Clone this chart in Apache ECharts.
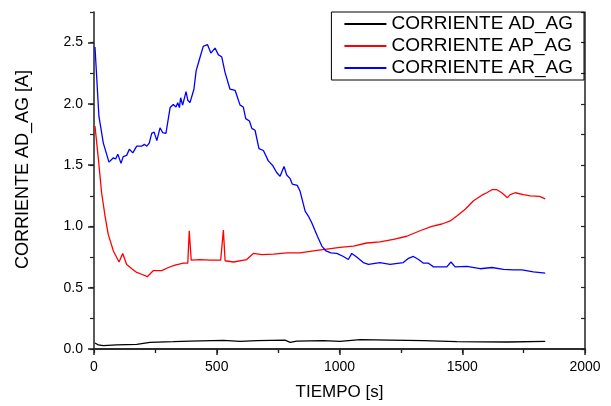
<!DOCTYPE html>
<html lang="es">
<head>
    <meta charset="UTF-8">
    <title>Corriente</title>
    <script src="https://cdn.jsdelivr.net/npm/echarts@6/dist/echarts.min.js"></script>
</head>
<body style="margin:0">
<div id="main" style="width: 611px;height:406px;"></div>
<script>
    // tiempo [s] y corriente [A]
    var adTime = [4, 18, 38, 92, 174, 228, 323, 391, 527, 595, 663, 778, 799, 826, 934, 1002, 1084, 1206, 1342, 1478, 1682, 1838];
    var adVal  = [0.049, 0.033, 0.027, 0.033, 0.038, 0.054, 0.060, 0.065, 0.070, 0.063, 0.068, 0.073, 0.054, 0.065, 0.068, 0.063, 0.076, 0.073, 0.068, 0.060, 0.057, 0.063];

    var apTime = [4, 18, 31, 45, 58, 79, 102, 117, 133, 154, 174, 194, 217, 242, 276, 303, 330, 364, 382, 388, 396, 432, 473, 516, 527, 534, 568, 622, 649, 683, 731, 785, 839, 894, 948, 1002, 1057, 1111, 1165, 1220, 1274, 1328, 1376, 1417, 1451, 1478, 1512, 1546, 1580, 1600, 1621, 1641, 1661, 1684, 1695, 1716, 1749, 1777, 1815, 1838];
    var apVal  = [1.82, 1.547, 1.275, 1.085, 0.935, 0.80, 0.71, 0.78, 0.69, 0.655, 0.625, 0.61, 0.59, 0.64, 0.64, 0.665, 0.685, 0.70, 0.70, 0.965, 0.725, 0.73, 0.725, 0.725, 0.97, 0.72, 0.71, 0.73, 0.78, 0.77, 0.775, 0.785, 0.785, 0.80, 0.815, 0.83, 0.84, 0.865, 0.875, 0.895, 0.92, 0.965, 1.00, 1.02, 1.045, 1.085, 1.14, 1.21, 1.255, 1.275, 1.30, 1.30, 1.275, 1.235, 1.26, 1.275, 1.26, 1.25, 1.245, 1.225];

    var arTime = [4, 20, 38, 61, 79, 88, 97, 110, 119, 133, 144, 158, 174, 194, 205, 215, 225, 235, 245, 256, 269, 280, 293, 310, 323, 334, 341, 348, 353, 361, 375, 382, 391, 407, 416, 429, 445, 462, 476, 493, 507, 520, 534, 554, 575, 595, 608, 618, 633, 643, 656, 672, 690, 710, 727, 744, 758, 774, 785, 799, 808, 828, 839, 860, 873, 887, 910, 928, 945, 965, 989, 1016, 1036, 1050, 1070, 1097, 1118, 1165, 1206, 1260, 1281, 1301, 1322, 1342, 1362, 1383, 1437, 1454, 1471, 1519, 1573, 1621, 1668, 1709, 1743, 1790, 1838];
    var arVal  = [2.465, 1.90, 1.68, 1.525, 1.56, 1.55, 1.59, 1.515, 1.57, 1.58, 1.63, 1.60, 1.655, 1.655, 1.67, 1.655, 1.68, 1.76, 1.77, 1.70, 1.805, 1.765, 1.76, 1.97, 1.995, 1.975, 2.01, 1.97, 2.05, 1.99, 2.10, 2.03, 2.01, 2.12, 2.27, 2.36, 2.47, 2.485, 2.415, 2.455, 2.40, 2.385, 2.255, 2.12, 2.11, 1.99, 1.975, 1.88, 1.86, 1.80, 1.785, 1.635, 1.62, 1.535, 1.50, 1.44, 1.41, 1.49, 1.42, 1.39, 1.345, 1.335, 1.29, 1.125, 1.085, 1.03, 0.92, 0.84, 0.80, 0.785, 0.78, 0.755, 0.73, 0.78, 0.75, 0.705, 0.69, 0.705, 0.69, 0.705, 0.74, 0.755, 0.73, 0.70, 0.70, 0.67, 0.67, 0.71, 0.67, 0.675, 0.655, 0.665, 0.65, 0.645, 0.645, 0.63, 0.62];

    var seriesNames = ['CORRIENTE AD_AG', 'CORRIENTE AP_AG', 'CORRIENTE AR_AG'];

    function pairs(t, v) {
        return t.map(function (x, i) { return [x, v[i]]; });
    }

    var font = 'Liberation Sans, Arial, sans-serif';
    var axisCol = '#222';

    var myChart = echarts.init(document.getElementById('main'));
    var option = {
        animation: false,
        textStyle: {fontFamily: font},
        grid: {left: 94, right: 26, top: 12, bottom: 56},
        legend: {
            data: seriesNames,
            icon: 'rect',
            orient: 'vertical',
            right: 27,
            top: 12,
            itemWidth: 42,
            itemHeight: 2,
            itemGap: 2,
            padding: [2, 11, 2, 13],
            borderColor: '#000',
            borderWidth: 1,
            textStyle: {fontSize: 19, lineHeight: 20, color: '#000', fontFamily: font}
        },
        xAxis: [
            {
                type: 'value',
                min: 0, max: 2000, interval: 500,
                name: 'TIEMPO [s]',
                nameLocation: 'middle',
                nameGap: 35,
                nameTextStyle: {fontSize: 17, color: '#000'},
                axisLine: {lineStyle: {color: axisCol, width: 1.5}},
                axisTick: {length: 6, lineStyle: {color: axisCol, width: 1.5}},
                minorTick: {show: true, splitNumber: 2, length: 4, lineStyle: {color: axisCol, width: 1.2}},
                axisLabel: {fontSize: 14, color: '#000', margin: 11,
                    formatter: function (v) { return String(v); }},
                splitLine: {show: false}
            },
            {
                type: 'value', position: 'top',
                min: 0, max: 2000, interval: 250,
                axisLine: {lineStyle: {color: axisCol, width: 1.5}},
                axisTick: {inside: true, length: 4, lineStyle: {color: axisCol, width: 1.2}},
                axisLabel: {show: false},
                splitLine: {show: false}
            }
        ],
        yAxis: [
            {
                type: 'value',
                min: 0, max: 2.75, interval: 0.5,
                name: 'CORRIENTE AD_AG [A]',
                nameLocation: 'middle',
                nameGap: 62,
                nameTextStyle: {fontSize: 18, color: '#000', padding: [0, 0, 0, 22]},
                axisLine: {show: true, lineStyle: {color: axisCol, width: 1.5}},
                axisTick: {show: true, length: 6, lineStyle: {color: axisCol, width: 1.5}},
                axisLabel: {fontSize: 14, color: '#000', margin: 11, showMaxLabel: false,
                    formatter: function (v) { return v.toFixed(1); }},
                splitLine: {show: false}
            },
            {
                type: 'value', position: 'left',
                min: 0, max: 2.75, interval: 0.25,
                axisLine: {show: false},
                axisTick: {show: true, length: 4, lineStyle: {color: axisCol, width: 1.2}},
                axisLabel: {show: false},
                splitLine: {show: false}
            },
            {
                type: 'value', position: 'right',
                min: 0, max: 2.75, interval: 0.25,
                axisLine: {show: true, lineStyle: {color: axisCol, width: 1.5}},
                axisTick: {show: true, inside: true, length: 4, lineStyle: {color: axisCol, width: 1.2}},
                axisLabel: {show: false},
                splitLine: {show: false}
            }
        ],
        series: [
            {
                name: seriesNames[0], type: 'line', symbol: 'none',
                color: '#000', lineStyle: {width: 1.3},
                data: pairs(adTime, adVal)
            },
            {
                name: seriesNames[1], type: 'line', symbol: 'none',
                color: '#ff0000', lineStyle: {width: 1.3},
                data: pairs(apTime, apVal)
            },
            {
                name: seriesNames[2], type: 'line', symbol: 'none',
                color: '#0000ff', lineStyle: {width: 1.3},
                data: pairs(arTime, arVal)
            }
        ]
    };
    myChart.setOption(option);
</script>
</body>
</html>
